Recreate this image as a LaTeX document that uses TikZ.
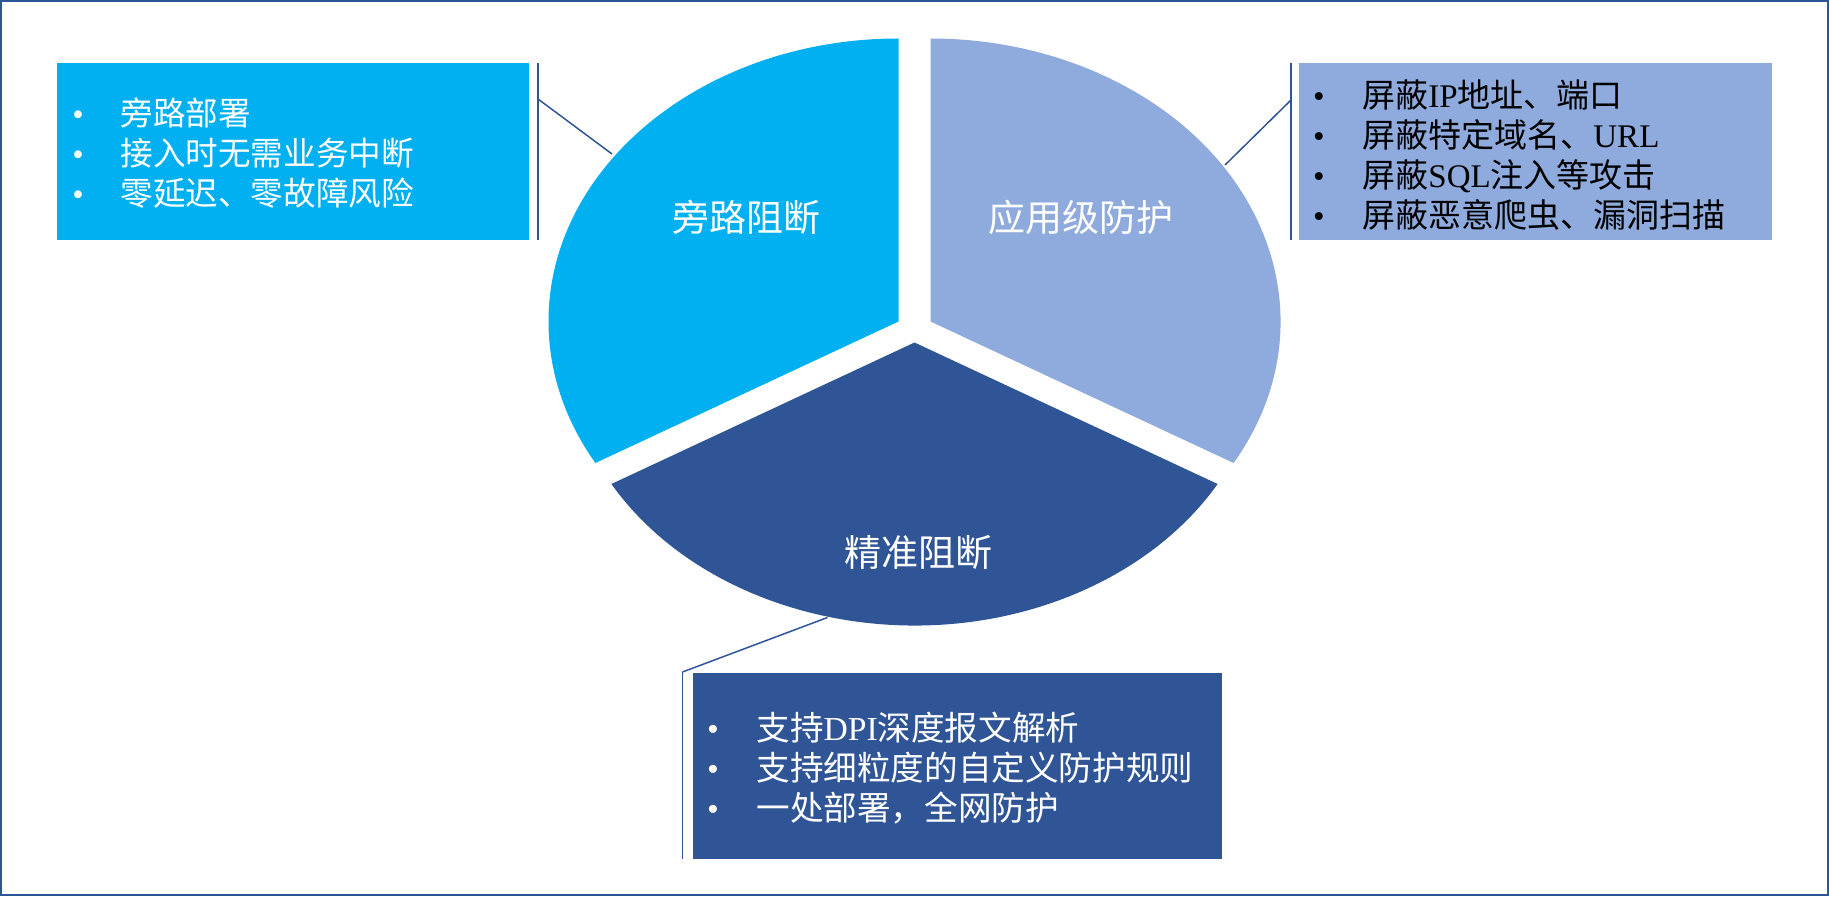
\documentclass[tikz,border=0pt]{standalone}
\usepackage{fontspec}
\setmainfont{Liberation Serif}
\newfontfamily\cjk{Noto Sans CJK SC}
\definecolor{skyc}{HTML}{00B0F0}
\definecolor{lavc}{HTML}{8FAADC}
\definecolor{navc}{HTML}{2F5597}
\tikzset{
  frame/.style={draw=navc, line width=1pt},
  slicelbl/.style={text=white, inner sep=0, font=\cjk\fontsize{18.5}{22}\selectfont},
  infobox/.style={anchor=south west, inner sep=0, draw=none},
  bar/.style={draw=navc, line width=0.9pt},
  leader/.style={draw=navc, line width=0.75pt},
  txtline/.style={anchor=west, inner sep=0, text height=14.4pt, text depth=2pt},
  bul/.style={anchor=center, inner sep=0, text height=14.4pt, text depth=2pt},
  fsL/.style={font=\fontsize{16.3}{20}\selectfont},
  fsR/.style={font=\fontsize{16.5}{20}\selectfont},
  fsB/.style={font=\fontsize{16.8}{20}\selectfont},
}
\begin{document}
\begin{tikzpicture}[x=0.5pt,y=0.5pt]
\useasboundingbox (0,0) rectangle (1829,896);
\draw[frame] (1,1) rectangle (1828,895);

% pie slices
\fill[skyc] (898.5,574.5) -- ++(0,283) arc[start angle=90,end angle=210,x radius=175pt,y radius=141.5pt] -- cycle;
\fill[lavc] (930.5,574.5) -- ++(303.1,-141.5) arc[start angle=-30,end angle=90,x radius=175pt,y radius=141.5pt] -- cycle;
\fill[navc] (914.5,553.5) -- ++(-303.1,-141.5) arc[start angle=210,end angle=330,x radius=175pt,y radius=141.5pt] -- cycle;

\node[slicelbl] (s1) at (746,678.5) {旁路阻断};
\node[slicelbl] (s2) at (1081,679) {应用级防护};
\node[slicelbl] (s3) at (918,344) {精准阻断};

% boxes
\node[infobox, fill=skyc, minimum width=236pt, minimum height=88.5pt] (boxL) at (57,656) {};
\node[infobox, fill=lavc, minimum width=236.5pt, minimum height=88.5pt] (boxR) at (1299,656) {};
\node[infobox, fill=navc, minimum width=264.5pt, minimum height=93pt] (boxB) at (693,37) {};

% leader coordinates
\coordinate (barLt) at (538,833);
\coordinate (barLb) at (538,656);
\coordinate (legL) at (538,797);
\coordinate (pieL) at (612,742);
\coordinate (barRt) at (1291,833);
\coordinate (barRb) at (1291,656);
\coordinate (legR) at (1291,796);
\coordinate (pieR) at (1225,731);
\coordinate (barBt) at (682.5,224);
\coordinate (barBb) at (682.5,37);
\coordinate (pieB) at (827.5,278.5);

\draw[bar] (barLt) -- (barLb);
\draw[leader] (legL) -- (pieL);
\draw[bar] (barRt) -- (barRb);
\draw[leader] (legR) -- (pieR);
\draw[bar] (barBt) -- (barBb);
\draw[leader] (barBt) -- (pieB);

% left box text
\node[bul, fsL, text=white] (bl1) at (78,783) {•};
\node[bul, fsL, text=white] (bl2) at (78,743) {•};
\node[bul, fsL, text=white] (bl3) at (78,703) {•};
\node[txtline, fsL, text=white] (tl1) at (120,783) {{\cjk 旁路部署}};
\node[txtline, fsL, text=white] (tl2) at (120,743) {{\cjk 接入时无需业务中断}};
\node[txtline, fsL, text=white] (tl3) at (120,703) {{\cjk 零延迟、零故障风险}};

% right box text
\node[bul, fsR, text=black] (br1) at (1319,801) {•};
\node[bul, fsR, text=black] (br2) at (1319,761) {•};
\node[bul, fsR, text=black] (br3) at (1319,721) {•};
\node[bul, fsR, text=black] (br4) at (1319,681) {•};
\node[txtline, fsR, text=black] (tr1) at (1362,801) {{\cjk 屏蔽}IP{\cjk 地址、端口}};
\node[txtline, fsR, text=black] (tr2) at (1362,761) {{\cjk 屏蔽特定域名、}URL};
\node[txtline, fsR, text=black] (tr3) at (1362,721) {{\cjk 屏蔽}SQL{\cjk 注入等攻击}};
\node[txtline, fsR, text=black] (tr4) at (1362,681) {{\cjk 屏蔽恶意爬虫、漏洞扫描}};

% bottom box text
\node[bul, fsB, text=white] (bb1) at (713,168) {•};
\node[bul, fsB, text=white] (bb2) at (713,128) {•};
\node[bul, fsB, text=white] (bb3) at (713,88) {•};
\node[txtline, fsB, text=white] (tb1) at (756,168) {{\cjk 支持}DPI{\cjk 深度报文解析}};
\node[txtline, fsB, text=white] (tb2) at (756,128) {{\cjk 支持细粒度的自定义防护规则}};
\node[txtline, fsB, text=white] (tb3) at (756,88) {{\cjk 一处部署，全网防护}};
\end{tikzpicture}
\end{document}
